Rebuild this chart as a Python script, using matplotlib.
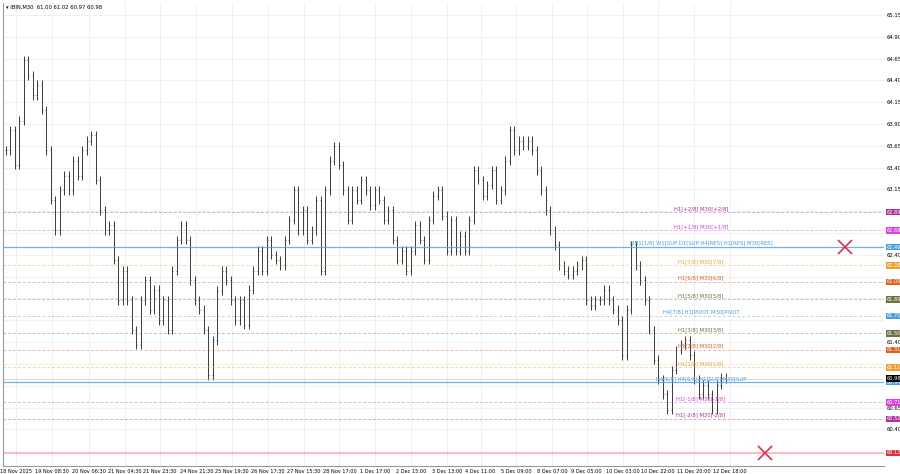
import matplotlib.pyplot as plt
import numpy as np

# closes sampled along the chart (M30 bars, thinned)
closes = [63.60, 63.83, 63.43, 63.94, 64.63, 64.46, 64.23, 64.35, 64.06, 63.60,
          63.03, 62.68, 63.14, 63.31, 63.14, 63.48, 63.31, 63.60, 63.71, 63.77,
          63.26, 62.91, 62.68, 62.74, 62.34, 61.88, 62.22, 61.88, 61.54, 61.37,
          61.88, 62.11, 61.77, 62.00, 61.65, 61.88, 61.54, 62.22, 62.57, 62.74,
          62.57, 62.11, 61.88, 61.77, 61.54, 61.02, 61.42, 61.99, 62.22, 62.11,
          61.88, 61.65, 61.88, 61.60, 62.00, 62.22, 62.45, 62.22, 62.57, 62.40,
          62.34, 62.28, 62.57, 62.80, 63.14, 62.68, 62.91, 62.57, 62.68, 63.03,
          62.22, 63.14, 63.48, 63.65, 63.43, 63.14, 62.80, 63.14, 63.03, 63.26,
          63.14, 62.97, 63.14, 63.03, 62.80, 62.91, 62.57, 62.34, 62.45, 62.22,
          62.45, 62.74, 62.57, 62.34, 62.80, 63.08, 63.14, 62.85, 62.45, 62.80,
          62.45, 62.62, 62.45, 62.80, 63.37, 63.26, 63.08, 63.20, 63.37, 63.03,
          63.14, 63.48, 63.83, 63.60, 63.71, 63.65, 63.71, 63.60, 63.37, 63.14,
          62.91, 62.68, 62.51, 62.28, 62.22, 62.17, 62.22, 62.28, 62.34, 61.88,
          61.82, 61.88, 61.88, 62.00, 61.88, 61.77, 61.65, 61.25, 61.77, 62.51,
          62.28, 62.11, 61.88, 61.54, 61.20, 60.97, 60.80, 60.62, 61.08, 61.31,
          61.37, 61.42, 61.25, 60.97, 60.80, 60.91, 60.80, 60.62, 60.91, 60.99,
          60.98]
tick_px = [10, 47, 84, 120, 155, 192, 228, 264, 300, 336, 372, 408, 444, 478,
           514, 550, 585, 621, 657, 693, 729]
tick_labels = ["18 Nov 2025", "19 Nov 08:30", "20 Nov 06:30", "21 Nov 04:30",
               "21 Nov 23:30", "24 Nov 21:30", "25 Nov 19:30", "26 Nov 17:30",
               "27 Nov 15:30", "28 Nov 17:00", "1 Dec 17:00", "2 Dec 15:00",
               "3 Dec 13:00", "4 Dec 11:00", "5 Dec 09:00", "8 Dec 07:00",
               "9 Dec 05:00", "10 Dec 03:00", "10 Dec 22:00", "11 Dec 20:00",
               "12 Dec 18:00"]
levels = [62.89, 62.68, 62.49, 62.28, 62.09, 61.89, 61.70, 61.50, 61.31, 61.11, 60.94, 60.71, 60.52, 60.13]
level_colors = ["#b0309a", "#e040e0", "#4a9fe0", "#f0a030", "#e06020", "#707040", "#4a9fe0",
                "#707040", "#e06020", "#f0a030", "#4a9fe0", "#e040e0", "#b0309a", "#e03040"]
level_text = ["H1[+2/8] M30[+2/8]", "H1[+1/8] M30[+1/8]",
              "MN1[1/8] W1[SUP D1[SUP H4[RES] H1[RES] M30[RES]",
              "H1[7/8] M30[7/8]", "H1[6/8] M30[6/8]", "H1[5/8] M30[5/8]",
              "H4[7/8] H1[PIVOT M30[PIVOT", "H1[3/8] M30[3/8]", "H1[2/8] M30[2/8]",
              "H1[1/8] M30[1/8]", "H4[6/8] H4[6/8] H1[SUP] M30[SUP", "H1[-1/8] M30[-1/8]",
              "H1[-2/8] M30[-2/8]", ""]
solid = [2, 10, 13]

fig = plt.figure(figsize=(9, 4.74), dpi=100)
ax = fig.add_axes([0.003, 0.017, 0.979, 0.977])
px = 725 / (len(closes) - 1)  # pixels per sample
x = np.arange(len(closes)) * px
opens = [closes[0]] + closes[:-1]
for xi, o, c in zip(x, opens, closes):
    lo, hi = min(o, c) - 0.05, max(o, c) + 0.05
    ax.vlines(xi, lo, hi, color="#3a3a3a", lw=0.7)
    ax.hlines(o, xi - 1.0, xi, color="#3a3a3a", lw=0.5)
    ax.hlines(c, xi, xi + 1.0, color="#3a3a3a", lw=0.5)

for i, (lv, col, t) in enumerate(zip(levels, level_colors, level_text)):
    if i in solid:
        ax.axhline(lv, color=col, lw=0.9 if i != 13 else 1.6, alpha=0.8 if i != 13 else 0.3)
    else:
        ax.axhline(lv, color=col, lw=0.5, ls=(0, (4, 3)), alpha=0.6)
    if t:
        ax.text(700, lv + 0.015, t, color=col, fontsize=3.8, ha="center", va="bottom")
    ax.text(1.003, lv, f"{lv:.2f}", transform=ax.get_yaxis_transform(), fontsize=3.6,
            color="white", va="center", ha="left",
            bbox=dict(boxstyle="square,pad=0.15", fc=col, ec="none"))
ax.text(1.003, 60.98, "60.98", transform=ax.get_yaxis_transform(), fontsize=3.6,
        color="white", va="center", ha="left",
        bbox=dict(boxstyle="square,pad=0.15", fc="black", ec="none"))
ax.axhline(60.98, color="#bbbbbb", lw=0.4)

ax.plot([845, 764], [62.49, 60.13], "x", color="#e03050", ms=10, mew=1.2)

ax.set_xlim(-3, 884)
ax.set_ylim(59.98, 65.29)
ax.yaxis.tick_right()
yt = np.arange(60.40, 65.16, 0.25)
ax.set_yticks(yt)
labels = ["" if min(abs(v - l) for l in levels + [60.98]) < 0.06 else f"{v:.2f}" for v in yt]
ax.set_yticklabels(labels, fontsize=3.8)
ax.set_xticks(tick_px)
ax.set_xticklabels(tick_labels, fontsize=3.6)
ax.tick_params(length=0, pad=2)
ax.grid(True, color="#eeeeee", lw=0.6)
for s in ["top", "right"]:
    ax.spines[s].set_visible(False)
for s in ["left", "bottom"]:
    ax.spines[s].set_color("#999999")
ax.text(0.004, 0.995, "\u25be IBIN,M30  61.00 61.02 60.97 60.98", transform=ax.transAxes,
        fontsize=3.8, va="top", ha="left")
fig.savefig("out.png", dpi=100)
